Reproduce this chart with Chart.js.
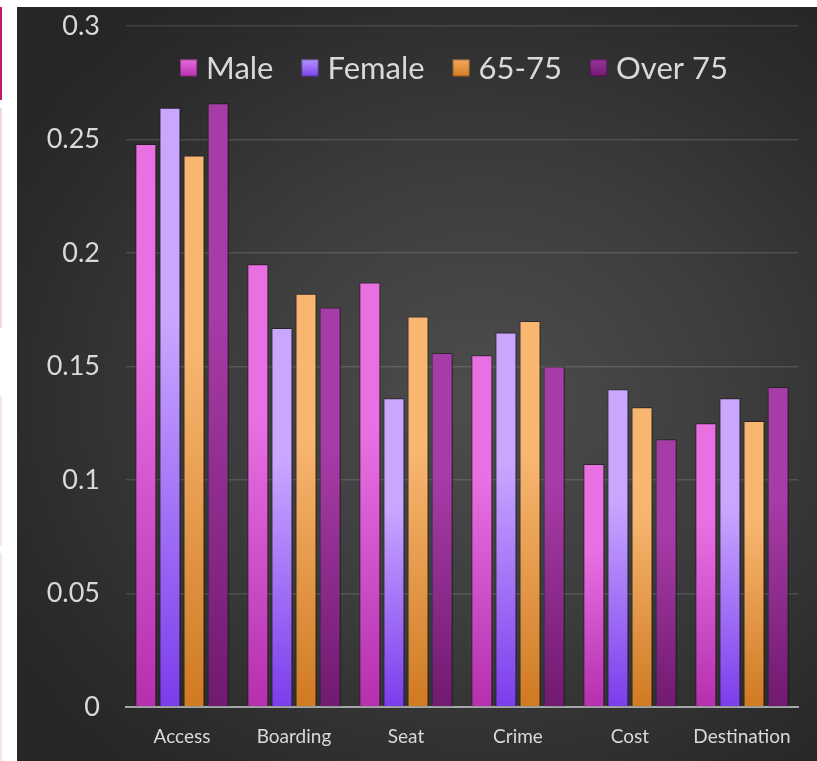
<!DOCTYPE html>
<html lang="en">
<head>
  <meta charset="UTF-8" />
  <title>Ratings by group</title>
  <script src="https://cdn.jsdelivr.net/npm/chart.js"></script>
  <style>
    html, body {
      margin: 0;
      padding: 0;
      background: #fff;
      width: 817px;
      height: 761px;
      overflow: hidden;
      font-family: Lato, "Open Sans", sans-serif;
    }
    .edge {
      position: absolute;
      left: 0;
      width: 2px;
    }
    .panel {
      position: absolute;
      left: 17px;
      top: 7px;
      width: 800px;
      height: 754px;
      background: radial-gradient(ellipse 70% 65% at 58% 52%, #4d4d4d 0%, #3d3d3d 45%, #2b2b2b 85%, #262626 100%);
    }
  </style>
</head>
<body>
  <!-- bits of the slide frame on the left -->
  <div class="edge" style="top:7px;height:93px;background:#c2186e"></div>
  <div class="edge" style="top:108px;height:220px;background:#f0d8e6"></div>
  <div class="edge" style="top:396px;height:150px;background:#f5e6ee"></div>
  <div class="edge" style="top:553px;height:208px;background:#f5e6ee"></div>

  <div class="panel">
    <canvas id="barChart" width="800" height="754"></canvas>
  </div>

  <script>
    // data
    const categories = ['Access', 'Boarding', 'Seat', 'Crime', 'Cost', 'Destination'];
    const male     = [0.248, 0.195, 0.187, 0.155, 0.107, 0.125];
    const female   = [0.264, 0.167, 0.136, 0.165, 0.140, 0.136];
    const age65_75 = [0.243, 0.182, 0.172, 0.170, 0.132, 0.126];
    const over75   = [0.266, 0.176, 0.156, 0.150, 0.118, 0.141];
    const yTicks   = [0, 0.05, 0.1, 0.15, 0.2, 0.25, 0.3];

    // each bar gets its own top-to-bottom gradient
    function barGradient(top, bottom) {
      return function(ctx) {
        const chart = ctx.chart;
        if (!chart.chartArea || ctx.raw === undefined) return top;
        const ys = chart.scales.y;
        const y1 = ys.getPixelForValue(ctx.raw);
        const y0 = ys.getPixelForValue(0);
        const g = chart.ctx.createLinearGradient(0, y1, 0, y0);
        g.addColorStop(0, top);
        g.addColorStop(0.35, top);
        g.addColorStop(1, bottom);
        return g;
      };
    }

    const series = [
      { label: 'Male',    data: male,     top: '#e870e2', bottom: '#b52fae', swatch: ['#e56ade', '#b932b2'] },
      { label: 'Female',  data: female,   top: '#caa7ff', bottom: '#7b3cec', swatch: ['#b494ff', '#7d42ee'] },
      { label: '65-75',   data: age65_75, top: '#f8b670', bottom: '#d07a22', swatch: ['#f2a95e', '#d47e26'] },
      { label: 'Over 75', data: over75,   top: '#a63ca6', bottom: '#701a70', swatch: ['#9a349a', '#701a70'] }
    ];

    // soft drop shadow under the bars
    const barShadow = {
      id: 'barShadow',
      beforeDatasetsDraw(chart) {
        const c = chart.ctx;
        c.save();
        c.shadowColor = 'rgba(0,0,0,0.55)';
        c.shadowBlur = 6;
        c.shadowOffsetX = 2;
        c.shadowOffsetY = 1;
      },
      afterDatasetsDraw(chart) {
        chart.ctx.restore();
      }
    };

    // legend drawn inside the plot, one row, centred near the top
    const insideLegend = {
      id: 'insideLegend',
      afterDraw(chart) {
        const c = chart.ctx;
        const box = 17, gap = 9, spacing = 28;
        c.save();
        c.font = '31px Lato';
        c.textBaseline = 'middle';
        const widths = series.map(s => box + gap + c.measureText(s.label).width);
        const total = widths.reduce((a, b) => a + b, 0) + spacing * (series.length - 1);
        const cx = (chart.chartArea.left + chart.chartArea.right) / 2 - 8;
        const cy = chart.chartArea.top + 42;
        let x = cx - total / 2;
        series.forEach((s, i) => {
          const g = c.createLinearGradient(0, cy - box / 2, 0, cy + box / 2);
          g.addColorStop(0, s.swatch[0]);
          g.addColorStop(1, s.swatch[1]);
          c.fillStyle = g;
          c.fillRect(x, cy - box / 2, box, box);
          c.strokeStyle = 'rgba(0,0,0,0.3)';
          c.lineWidth = 1;
          c.strokeRect(x + 0.5, cy - box / 2 + 0.5, box - 1, box - 1);
          c.fillStyle = '#d9d9d9';
          c.fillText(s.label, x + box + gap, cy + 1);
          x += widths[i] + spacing;
        });
        c.restore();
      }
    };

    const ctx = document.getElementById('barChart').getContext('2d');
    new Chart(ctx, {
      type: 'bar',
      data: {
        labels: categories,
        datasets: series.map(s => ({
          label: s.label,
          data: s.data,
          backgroundColor: barGradient(s.top, s.bottom),
          borderColor: 'rgba(40,20,40,0.45)',
          borderWidth: 1,
          categoryPercentage: 0.86,
          barPercentage: 0.875
        }))
      },
      options: {
        responsive: false,
        animation: false,
        layout: { padding: { left: 0, right: 19, top: 0, bottom: 0 } },
        scales: {
          x: {
            grid: { display: false },
            border: { display: true, color: '#a6a6a6', width: 2 },
            ticks: {
              color: '#d9d9d9',
              padding: 10,
              font: { family: 'Lato', size: 19 }
            },
            afterFit(scale) { scale.height = 54; }
          },
          y: {
            min: 0,
            max: 0.3,
            afterBuildTicks(scale) {
              scale.ticks = yTicks.map(v => ({ value: v }));
            },
            grid: { color: 'rgba(255,255,255,0.13)', lineWidth: 1.5, drawTicks: false },
            border: { display: false },
            ticks: {
              color: '#d9d9d9',
              padding: 26,
              font: { family: 'Lato', size: 27 },
              callback: v => String(+v.toFixed(2))
            },
            afterFit(scale) {
              scale.width = 109;
              scale.paddingTop = 19;
              scale.paddingBottom = 0;
            }
          }
        },
        plugins: {
          legend: { display: false },
          tooltip: { enabled: false }
        }
      },
      plugins: [barShadow, insideLegend]
    });
  </script>
</body>
</html>
